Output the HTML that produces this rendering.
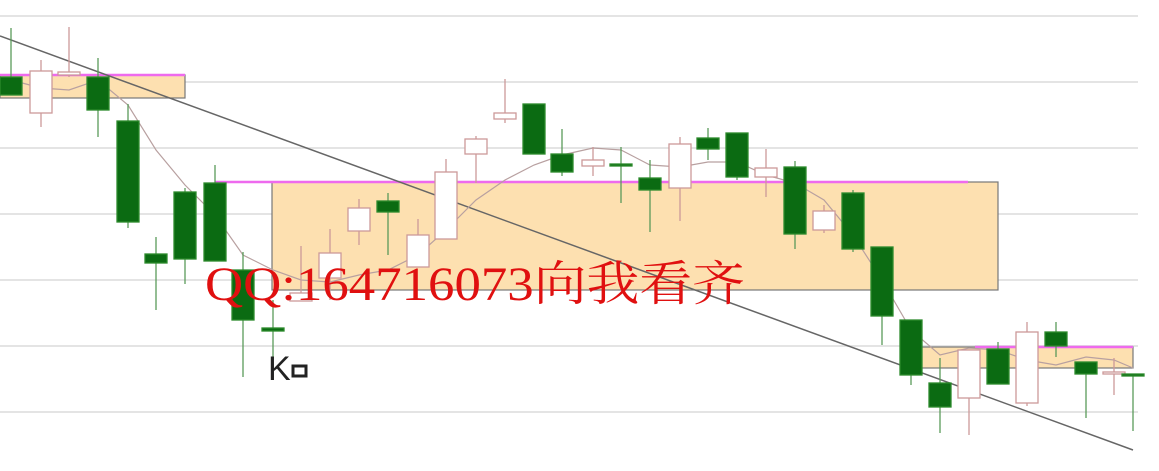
<!DOCTYPE html>
<html><head><meta charset="utf-8"><style>
html,body{margin:0;padding:0;background:#fff;width:1159px;height:471px;overflow:hidden}
</style></head><body>
<svg id="chart" width="1159" height="471" viewBox="0 0 1159 471" xmlns="http://www.w3.org/2000/svg">
<g id="grid"></g>
<g id="zones"></g>
<g id="trend"></g>
<g id="ma"></g>
<g id="candles"></g>
<text x="205" y="300" font-family="'Liberation Serif','Noto Serif CJK SC',serif" font-size="48" fill="#e01010" textLength="540" lengthAdjust="spacingAndGlyphs">QQ:164716073向我看齐</text>
<text x="268" y="380" font-family="'Liberation Sans',sans-serif" font-size="34" fill="#222">K</text>
<rect x="293" y="366" width="13" height="10" fill="none" stroke="#222" stroke-width="3"/>
</svg>
<script>
// price units: higher = higher on chart
const xs =    [11,41,69,98,128,156,185,215,243,273,301,330,359,388,418,446,476,505,534,562,593,621,650,680,708,737,766,795,824,853,882,911,940,969,998,1027,1056,1086,1114,1133];
const opens = [423,387,425,423,379,246,308,317,230,172,199,222,269,299,233,261,346,381,396,346,334,336,322,312,362,367,323,333,270,307,253,180,117,102,151,97,168,138,126,126];
const closes= [405,429,428,390,278,237,241,239,180,169,207,247,292,288,265,328,361,387,346,328,340,335,310,356,351,323,332,266,289,251,184,125,93,150,116,168,154,126,128,124];
const highs = [472,440,473,442,396,263,312,335,248,200,254,271,301,307,281,341,364,421,396,371,353,353,340,363,372,367,351,339,295,310,253,180,142,150,158,178,178,138,142,126];
const lows  = [405,373,423,363,272,190,216,239,123,120,199,200,255,245,233,261,317,377,346,324,324,297,268,279,340,320,303,251,267,248,155,115,67,65,116,94,143,82,105,69];
const maVals= [420,412,410,420,395,350,315,285,245,230,220,218,225,230,245,270,300,320,335,345,352,350,335,333,338,338,325,317,300,265,220,170,145,152,150,140,135,143,140,132];
const gridPrices=[484,418,352,286,220,154,88];
const zonesTop=[425,318,153], zonesBot=[402,210,132], zonesX0=[0,272,912], zonesX1=[185,998,1133];
const magX0=[0,215,975], magX1=[185,968,1133];
const trendP=[464,50], trendX=[0,1133];

const NS='http://www.w3.org/2000/svg';
function y(p){return 500-p;}
function mk(t,a,parent){const e=document.createElementNS(NS,t);for(const k in a)e.setAttribute(k,a[k]);parent.appendChild(e);return e;}
const G=id=>document.getElementById(id);

gridPrices.forEach(p=>{
  const l=mk('line',{x1:0,x2:1138,y1:y(p),y2:y(p),stroke:'#e4e4e4','stroke-width':2},G('grid'));
  
  
});
zonesTop.forEach((t,i)=>{
  const r=mk('rect',{x:zonesX0[i],y:y(t),width:zonesX1[i]-zonesX0[i],height:t-zonesBot[i],fill:'#fde0b0',stroke:'#777','stroke-width':1.2},G('zones'));
  
  
  const m=mk('line',{x1:magX0[i],x2:magX1[i],y1:y(t),y2:y(t),stroke:'#ee6aee','stroke-width':2.5},G('zones'));
  
  
});
const tl=mk('line',{x1:trendX[0],x2:trendX[1],y1:y(trendP[0]),y2:y(trendP[1]),stroke:'#666','stroke-width':1.5},G('trend'));



xs.forEach((x,i)=>{
  const o=opens[i],c=closes[i],h=highs[i],l=lows[i];
  const up=c>=o;
  const col=up?'#c99':'#2c8a2c';
  const w=mk('line',{x1:x,x2:x,y1:y(h),y2:y(l),stroke:up?'#c99':'#5a9a5a','stroke-width':1.3},G('candles'));
  
  
  const top=Math.max(o,c),bot=Math.min(o,c);
  const b=mk('rect',{x:x-11,y:y(top),width:22,height:Math.max(2,top-bot),fill:up?'#fff':'#0b6b12',stroke:col,'stroke-width':1.3},G('candles'));
  
  
});
const pts=xs.map((x,i)=>x+','+y(maVals[i])).join(' ');
const ml=mk('polyline',{points:pts,fill:'none',stroke:'#b8a0a0','stroke-width':1.2},G('ma'));


</script>
</body></html>
